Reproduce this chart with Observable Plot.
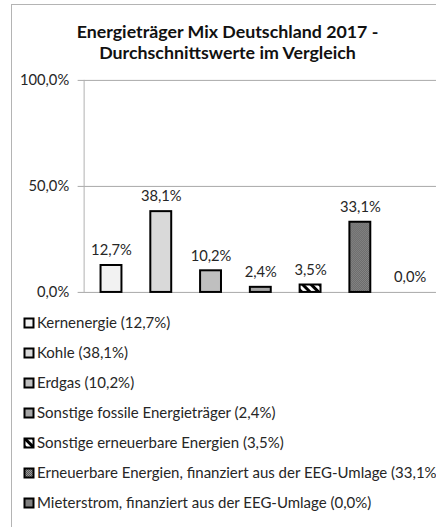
<!DOCTYPE html>
<html>
<head>
<meta charset="utf-8">
<script src="https://cdn.jsdelivr.net/npm/d3@7"></script>
<script src="https://cdn.jsdelivr.net/npm/@observablehq/plot@0.6"></script>
<style>
  html, body { margin: 0; padding: 0; background: #fff; }
  #wrap { position: relative; width: 436px; height: 527px; overflow: hidden; font-family: Lato, "Open Sans", sans-serif; color: #262626; }
  #frame { position: absolute; left: 11px; top: 4px; width: 600px; height: 700px; border-left: 1px solid #b4b4b4; border-top: 1px solid #b4b4b4; }
  #title { position: absolute; left: 11px; width: 433px; top: 21px; text-align: center; font-weight: bold; font-size: 17.8px; line-height: 21px; color: #111; white-space: nowrap; }
  #chart { position: absolute; left: 0; top: 60px; }
  #legend { position: absolute; left: 0; top: 0; }
</style>
</head>
<body>
<div id="wrap">
  <div id="frame"></div>
  <div id="title">Energieträger Mix Deutschland 2017 -<br>Durchschnittswerte im Vergleich</div>
  <div id="chart"></div>
  <svg id="legend" width="436" height="527"></svg>
</div>
<script>
// ---- data ----
const categories = [
  "Kernenergie",
  "Kohle",
  "Erdgas",
  "Sonstige fossile Energieträger",
  "Sonstige erneuerbare Energien",
  "Erneuerbare Energien, finanziert aus der EEG-Umlage",
  "Mieterstrom, finanziert aus der EEG-Umlage"
];
const values = [12.7, 38.1, 10.2, 2.4, 3.5, 33.1, 0.0];
const yTicks = [0, 50, 100];

// ---- styles ----
const fills = ["#f2f2f2", "#d9d9d9", "#bfbfbf", "#a6a6a6", "url(#hatch)", "url(#checker)", "#808080"];

const fmt = v => v.toFixed(1).replace(".", ",") + "%";
const data = categories.map((c, i) => ({category: c, value: values[i]}));

const defsMarkup = `
  <defs>
    <pattern id="hatch" patternUnits="userSpaceOnUse" width="6" height="6" patternTransform="rotate(-45)">
      <rect width="6" height="6" fill="#fff"></rect>
      <rect width="3" height="6" fill="#000"></rect>
    </pattern>
    <pattern id="checker" patternUnits="userSpaceOnUse" width="2" height="2">
      <rect width="2" height="2" fill="#9a9a9a"></rect>
      <rect width="1" height="1" fill="#555"></rect>
      <rect x="1" y="1" width="1" height="1" fill="#555"></rect>
    </pattern>
  </defs>`;

const chart = Plot.plot({
  width: 438,
  height: 250,
  marginLeft: 84,
  marginRight: 0,
  marginTop: 20,
  marginBottom: 17,
  style: {fontFamily: "Lato, 'Open Sans', sans-serif", fontSize: "14.8px", color: "#262626", overflow: "visible"},
  x: {domain: categories, paddingInner: 0.58, paddingOuter: 0.29, axis: null},
  y: {domain: [0, 100], axis: null},
  color: {domain: categories, range: fills},
  marks: [
    Plot.ruleY(yTicks, {stroke: "#a8a8a8", strokeWidth: 1, insetLeft: -6}),
    Plot.frame({anchor: "left", stroke: "#b0b0b0"}),
    Plot.axisY({ticks: yTicks, tickSize: 0, tickPadding: 15, tickFormat: fmt, label: null, fontSize: 14.8, fill: "#262626"}),
    Plot.barY(data, {filter: d => d.value > 0, x: "category", y: "value", fill: "category", stroke: "#000", strokeWidth: 2}),
    Plot.text(data, {x: "category", y: "value", text: d => fmt(d.value), dy: -15, fontSize: 14.8, fill: "#262626"})
  ]
});
chart.insertAdjacentHTML("afterbegin", defsMarkup);
document.getElementById("chart").appendChild(chart);

// ---- legend ----
const leg = d3.select("#legend");
leg.html(defsMarkup.replace(/id="hatch"/, 'id="hatchL"').replace(/id="checker"/, 'id="checkerL"'));
const legFills = fills.map(f => f.replace("#hatch", "#hatchL").replace("#checker", "#checkerL"));
const rowY0 = 323, rowStep = 30;
categories.forEach((c, i) => {
  const y = rowY0 + i * rowStep;
  leg.append("rect").attr("x", 24.5).attr("y", y - 4.5).attr("width", 9).attr("height", 9)
    .attr("fill", legFills[i]).attr("stroke", "#000").attr("stroke-width", 2);
  leg.append("text").attr("x", 37).attr("y", y).attr("dy", "0.35em")
    .attr("font-family", "Lato, 'Open Sans', sans-serif").attr("font-size", 15).attr("fill", "#262626")
    .text(`${c} (${fmt(values[i])})`);
});
</script>
</body>
</html>
